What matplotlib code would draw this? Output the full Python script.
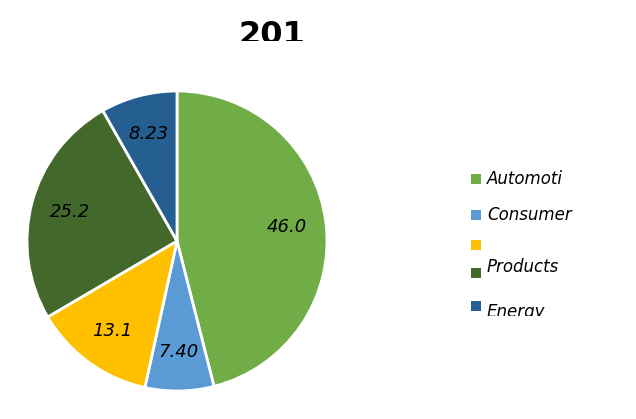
import matplotlib.pyplot as plt
from matplotlib.transforms import Bbox

# data
values = [46.0, 7.40, 13.1, 25.2, 8.23]
value_labels = ["46.0", "7.40", "13.1", "25.2", "8.23"]
legend_labels = ["Automoti", "Consumer", "", "Products", "Energy"]
colors = ["#70AD47", "#5B9BD5", "#FFC000", "#43682B", "#255E91"]
title = "201"

FONT = dict(family="DejaVu Sans", style="italic")

W, H = 636, 419
fig = plt.figure(figsize=(W / 100, H / 100), dpi=100)

# pie: centre (177, 241) px, radius ~152 px
cx, cy, r = 177, 241, 153
ax = fig.add_axes([(cx - r) / W, (H - cy - r) / H, 2 * r / W, 2 * r / H])
wedges, texts = ax.pie(values, colors=colors, startangle=90, counterclock=False,
                       radius=1.0, labels=value_labels, labeldistance=0.74,
                       wedgeprops=dict(edgecolor="white", linewidth=2),
                       textprops=dict(fontsize=13, color="black", **FONT))
for t in texts:
    t.set_ha("center")
    t.set_va("center")
ax.set_xlim(-1.02, 1.02)
ax.set_ylim(-1.02, 1.02)
ax.set_aspect("equal")
ax.axis("off")

# title, cut off at the bottom like the reference
tt = fig.text(272 / W, 1 - 36 / H, title, ha="center", va="center",
              fontsize=23, fontweight="semibold", color="black", family="DejaVu Sans")
tt.set_clip_box(Bbox.from_extents(0, H - 41, W, H))
tt.set_clip_on(True)

# legend drawn by hand, the last entry cut off at the bottom
ys = [179, 215, 243, 267, 312]
clip = Bbox.from_extents(0, H - 316, W, H)
for lab, col, y in zip(legend_labels, colors, ys):
    sq_y = y + (2 if lab == "" else 0)
    if lab == "Products":
        sq_y = y + 6
    if lab == "Energy":
        sq_y = y - 6
    fig.patches.append(plt.Rectangle(((471) / W, 1 - (sq_y + 5) / H), 10 / W, 10 / H,
                                     transform=fig.transFigure, facecolor=col,
                                     edgecolor="none"))
    t = fig.text(487 / W, 1 - y / H, lab, ha="left", va="center", fontsize=12,
                 color="black", **FONT)
    t.set_clip_box(clip)
    t.set_clip_on(True)

fig.savefig("out.png", dpi=100, facecolor="white")
